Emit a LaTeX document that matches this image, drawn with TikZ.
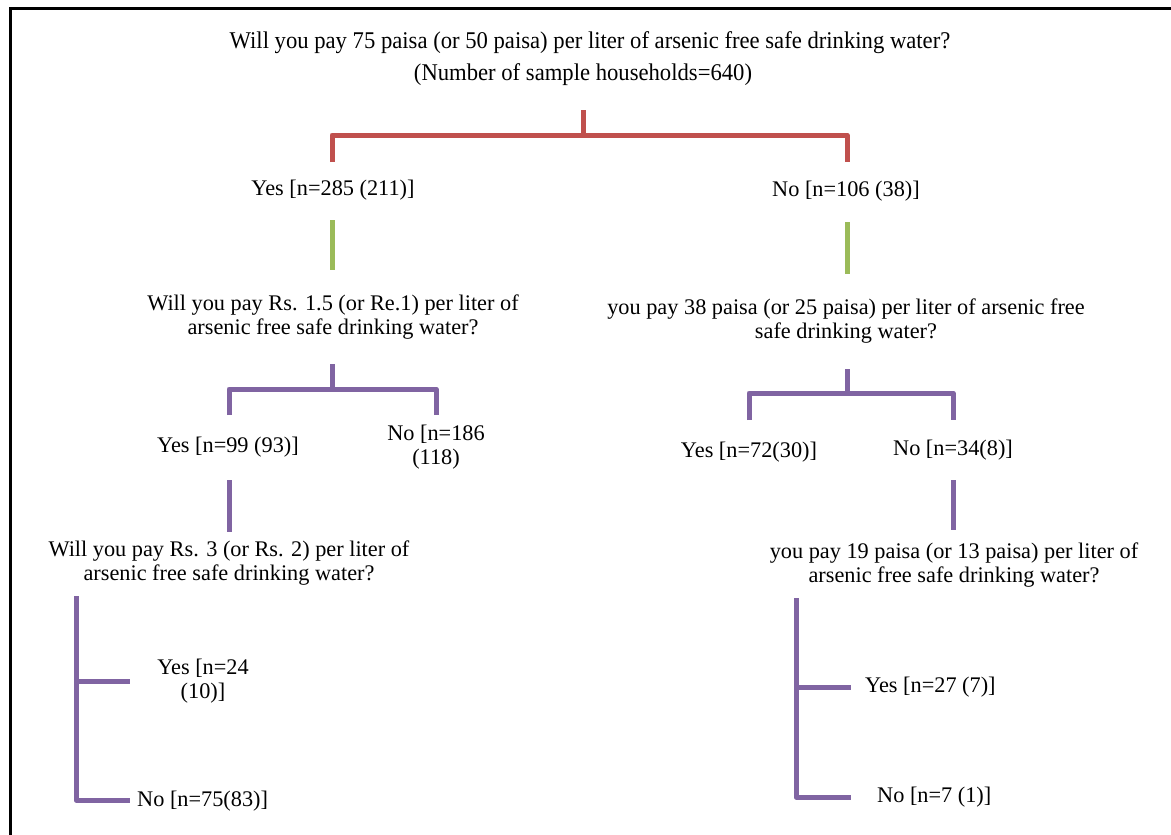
\documentclass[tikz,border=0pt]{standalone}
\usepackage{fontspec}
\setmainfont{Liberation Serif}
\definecolor{tred}{HTML}{C0504D}
\definecolor{tgreen}{HTML}{9BBB59}
\definecolor{tpurple}{HTML}{8064A2}
\tikzset{
  lbl/.style={inner sep=0pt, align=center, font=\fontsize{22.3}{24}\selectfont},
  lbll/.style={lbl, anchor=west},
  ttl/.style={inner sep=0pt, align=center, font=\fontsize{24}{26}\selectfont},
  redln/.style={draw=tred, line width=5pt},
  grnln/.style={draw=tgreen, line width=5pt},
  purln/.style={draw=tpurple, line width=5pt},
  frameln/.style={draw=black, line width=3pt}
}
\begin{document}
\begin{tikzpicture}[x=1pt,y=-1pt]
\useasboundingbox (0,0) rectangle (1171,835);
% frame
\coordinate (fa) at (10,837);
\coordinate (fb) at (10,8);
\coordinate (fc) at (1173,8);
\draw[frameln] (fa) -- (fb) -- (fc);
% title
\node[ttl] (t1) at (590,43) {\scalebox{0.944}[1]{Will you pay 75 paisa (or 50 paisa) per liter of arsenic free safe drinking water?}};
\node[ttl] (t2) at (583,75) {\scalebox{0.944}[1]{(Number of sample households=640)}};
% red bracket
\coordinate (r0) at (583,110);
\coordinate (r1) at (583,135);
\coordinate (rl) at (332,135);
\coordinate (rr) at (847,135);
\coordinate (rl2) at (332,162);
\coordinate (rr2) at (847,162);
\draw[redln] (r0) -- (r1);
\draw[redln, line join=round] (rl2) -- (rl) -- (rr) -- (rr2);
% level 1
\node[lbl] (y1) at (333,190) {Yes [n=285 (211)]};
\node[lbl] (n1) at (846,191) {No [n=106 (38)]};
\coordinate (g1a) at (332,220); \coordinate (g1b) at (332,270);
\coordinate (g2a) at (847,222); \coordinate (g2b) at (847,274);
\draw[grnln] (g1a) -- (g1b);
\draw[grnln] (g2a) -- (g2b);
% level 2 questions
\node[lbl] (q2l) at (333,317) {Will you pay Rs. 1.5 (or Re.1) per liter of\\arsenic free safe drinking water?};
\node[lbl] (q2r) at (846,321) {you pay 38 paisa (or 25 paisa) per liter of arsenic free\\safe drinking water?};
% left purple bracket
\coordinate (pl0) at (332,364); \coordinate (pl1) at (332,389);
\coordinate (pla) at (229,389); \coordinate (plb) at (436,389);
\coordinate (pla2) at (229,415); \coordinate (plb2) at (436,415);
\draw[purln] (pl0) -- (pl1);
\draw[purln, line join=round] (pla2) -- (pla) -- (plb) -- (plb2);
% right purple bracket
\coordinate (pr0) at (847,369); \coordinate (pr1) at (847,393);
\coordinate (pra) at (749,393); \coordinate (prb) at (953,393);
\coordinate (pra2) at (749,420); \coordinate (prb2) at (953,420);
\draw[purln] (pr0) -- (pr1);
\draw[purln, line join=round] (pra2) -- (pra) -- (prb) -- (prb2);
% level 3
\node[lbl] (y2l) at (228,447) {Yes [n=99 (93)]};
\node[lbl] (n2l) at (436,447) {No [n=186\\(118)};
\node[lbl] (y2r) at (749,452) {Yes [n=72(30)]};
\node[lbl] (n2r) at (953,450) {No [n=34(8)]};
\coordinate (v1a) at (229,480); \coordinate (v1b) at (229,532);
\coordinate (v2a) at (953,480); \coordinate (v2b) at (953,530);
\draw[purln] (v1a) -- (v1b);
\draw[purln] (v2a) -- (v2b);
% level 3 questions
\node[lbl] (q3l) at (229,563) {Will you pay Rs. 3 (or Rs. 2) per liter of\\arsenic free safe drinking water?};
\node[lbl] (q3r) at (954,565) {you pay 19 paisa (or 13 paisa) per liter of\\arsenic free safe drinking water?};
% left L bracket
\coordinate (la) at (76,596); \coordinate (lm) at (76,681); \coordinate (lb) at (76,800);
\coordinate (lme) at (130,681); \coordinate (lbe) at (130,800);
\draw[purln, line join=round] (la) -- (lb) -- (lbe);
\draw[purln] (lm) -- (lme);
\node[lbl] (y3l) at (203,681) {Yes [n=24\\(10)]};
\node[lbll] (n3l) at (137,801) {No [n=75(83)]};
% right L bracket
\coordinate (ra) at (796,598); \coordinate (rm) at (796,687); \coordinate (rb) at (796,797);
\coordinate (rme) at (851,687); \coordinate (rbe) at (851,797);
\draw[purln, line join=round] (ra) -- (rb) -- (rbe);
\draw[purln] (rm) -- (rme);
\node[lbll] (y3r) at (865,687) {Yes [n=27 (7)]};
\node[lbll] (n3r) at (877,797) {No [n=7 (1)]};
\end{tikzpicture}
\end{document}
